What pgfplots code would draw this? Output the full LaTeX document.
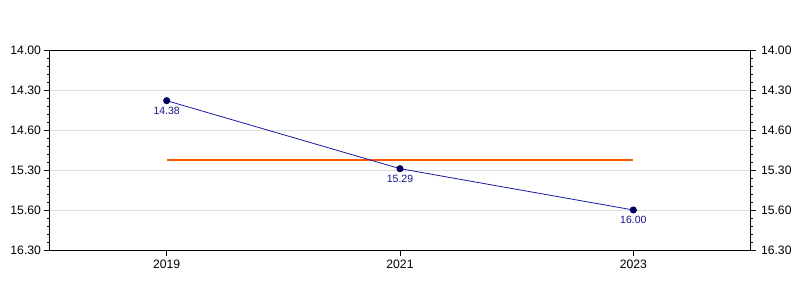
\documentclass[border=0pt]{standalone}
\usepackage{pgfplots}
\pgfplotsset{compat=1.18}
\usepackage{fontspec}
\setmainfont{Liberation Sans}
\definecolor{linecol}{RGB}{25,25,170}
\definecolor{markcol}{RGB}{0,0,110}
\definecolor{labcol}{RGB}{20,20,140}
\definecolor{avgcol}{RGB}{255,85,0}
\definecolor{gridcol}{RGB}{220,220,220}
\begin{document}
\begin{tikzpicture}
\path[use as bounding box] (-50bp,-50bp) rectangle (750bp,250bp);
\pgfplotsset{
  common/.style={
    at={(0,0)}, anchor=south west,
    scale only axis, width=700bp, height=200bp,
    xmin=2018, xmax=2024,
    ymin=840, ymax=990, y dir=reverse,
    ytick={840,870,900,930,960,990},
    yticklabels={14.00,14.30,14.60,15.30,15.60,16.30},
    minor y tick num=4,
    tick align=outside,
    major tick length=6bp, minor tick length=3bp,
    every tick/.style={black, line width=0.8bp},
    axis line style={black, line width=1bp},
    tick label style={font=\fontsize{12.2bp}{14bp}\selectfont},
  }
}
\begin{axis}[common,
    xtick={2019,2021,2023},
    xticklabels={2019,2021,2023},
    xtick pos=bottom,
    ytick pos=left,
    ymajorgrids,
    major grid style={gridcol, line width=0.8bp},
    yticklabel style={xshift=0.5bp},
    xticklabel style={yshift=-0.5bp},
  ]
  \addplot[avgcol, line width=2bp] coordinates {(2019,922.33) (2023,922.33)};
  \addplot[linecol, line width=0.8bp, mark=*, mark size=3.1bp,
    mark options={fill=markcol, draw=markcol!70!black},
    nodes near coords, point meta=explicit symbolic,
    every node near coord/.style={anchor=north, yshift=-5bp, inner sep=1bp,
      text=labcol, font=\fontsize{10.5bp}{12bp}\selectfont}]
    coordinates {(2019,878) [14.38] (2021,929) [15.29] (2023,960) [16.00]};
\end{axis}
\begin{axis}[common,
    axis x line=none,
    axis y line*=right,
    ytick pos=right,
    yticklabel style={xshift=1.5bp},
  ]
  \addplot[draw=none] coordinates {(2019,900)};
\end{axis}
\end{tikzpicture}
\end{document}
